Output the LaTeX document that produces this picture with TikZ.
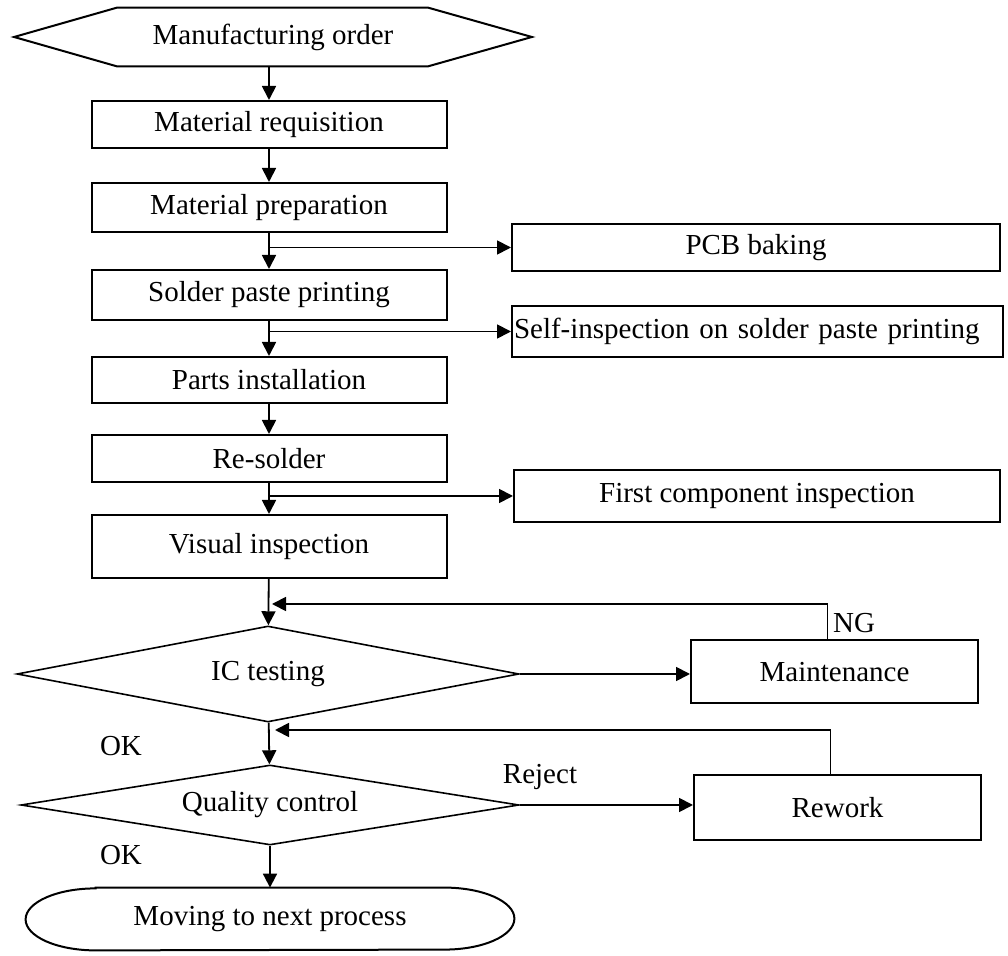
\documentclass[tikz,border=0pt]{standalone}
\usepackage{fontspec}
\setmainfont{Liberation Serif}
\usetikzlibrary{shapes.geometric, arrows.meta, positioning, calc}
\tikzstyle{process} = [rectangle, draw=black, line width=1pt, minimum width=177.5pt, minimum height=23.5pt, inner sep=1pt, text centered, font=\fontsize{14.5}{17}\selectfont]
\tikzstyle{decision} = [diamond, draw=black, line width=0.8pt, minimum width=250pt, minimum height=48pt, inner sep=0pt, text centered, font=\fontsize{14.5}{17}\selectfont]
\tikzstyle{terminal} = [rectangle, draw=none, inner sep=0pt, text centered, font=\fontsize{14.5}{17}\selectfont]
\tikzstyle{tag} = [inner sep=0pt, font=\fontsize{14.5}{17}\selectfont]
\tikzstyle{arrow} = [line width=0.9pt, -{Triangle[length=7pt,width=7pt]}, draw=black]
\tikzstyle{line} = [line width=1pt, draw=black]

\begin{document}
\begin{tikzpicture}[x=0.5pt, y=-0.5pt]
    \useasboundingbox (0,0) rectangle (1008,956);

    % main column
    \node (order) [terminal, minimum width=258.5pt, minimum height=29pt] at (273,37) {Manufacturing order};
    \node (req) [process] at (269,124.5) {Material requisition};
    \node (prep) [process, minimum height=24.5pt] at (269,207.5) {Material preparation};
    \node (solder) [process, minimum height=25pt] at (269,295) {Solder paste printing};
    \node (parts) [process, minimum height=23pt] at (269,380) {Parts installation};
    \node (resolder) [process] at (269,458.5) {Re-solder};
    \node (visual) [process, minimum height=31.5pt] at (269,546.5) {Visual inspection};
    \node (ic) [decision, aspect=5.23, minimum width=251pt] at (268,674) {IC testing};
    \node (qc) [decision, aspect=6.2, minimum width=249pt, minimum height=40pt] at (270,805) {\raisebox{-5pt}{Quality control}};
    \node (next) [terminal, minimum width=244pt, minimum height=31pt] at (270,919) {Moving to next process};

    % side boxes
    \node (pcb) [process, minimum width=244pt] at (756,247.5) {PCB baking};
    \node (self) [process, minimum height=25.5pt, text width=243.5pt, align=left] at (757.5,331.5) {Self-inspection on solder paste printing};
    \node (first) [process, minimum width=243pt, minimum height=26pt] at (757,496) {First component inspection};
    \node (maint) [process, minimum width=143.5pt, minimum height=31.5pt] at (834.5,672) {Maintenance};
    \node (rework) [process, minimum width=143.5pt, minimum height=32.5pt] at (837.5,807.5) {Rework};

    % hexagon and end shape
    \draw [line] ($(order.north west)+(51.5pt,0pt)$) -- ($(order.north east)+(-52pt,0pt)$) -- (order.east)
        -- ($(order.south east)+(-52pt,0pt)$) -- ($(order.south west)+(51.5pt,0pt)$) -- (order.west) -- cycle;
    \draw [line] ($(next.north west)+(35pt,0pt)$) -- ($(next.north east)+(-35pt,0pt)$)
        arc[start angle=90, end angle=-90, x radius=35pt, y radius=15.5pt]
        -- ($(next.south west)+(35pt,0pt)$)
        arc[start angle=270, end angle=90, x radius=35pt, y radius=15.5pt] -- cycle;

    % labels
    \node (ng) [tag] at (854,623) {NG};
    \node (ok1) [tag] at (121,746) {OK};
    \node (reject) [tag] at (540,777) {Reject};
    \node (ok2) [tag] at (121,855) {OK};

    \coordinate (fb1) at (272,604);
    \coordinate (fb2) at (275,730);

    \draw [arrow] (order.south -| req) -- (req.north);
    \draw [arrow] (req) -- (prep);
    \draw [arrow] (prep) -- (solder);
    \draw [arrow] (solder) -- (parts);
    \draw [arrow] (parts) -- (resolder);
    \draw [arrow] (resolder) -- (visual);
    \draw [arrow] (visual) -- (ic);
    \draw [arrow] (ic) -- (qc);
    \draw [arrow] (qc) -- (next.north);

    \draw [arrow] (prep.south |- pcb.west) -- (pcb.west);
    \draw [arrow] (solder.south |- self.west) -- (self.west);
    \draw [arrow] (resolder.south |- first.west) -- (first.west);
    \draw [arrow] (ic.east) -- (ic.east -| maint.west);
    \draw [arrow] (qc.east) -- (qc.east -| rework.west);
    \draw [arrow] ([xshift=-3.5pt]maint.north) |- (fb1);
    \draw [arrow] ([xshift=-3.5pt]rework.north) |- (fb2);
\end{tikzpicture}
\end{document}
